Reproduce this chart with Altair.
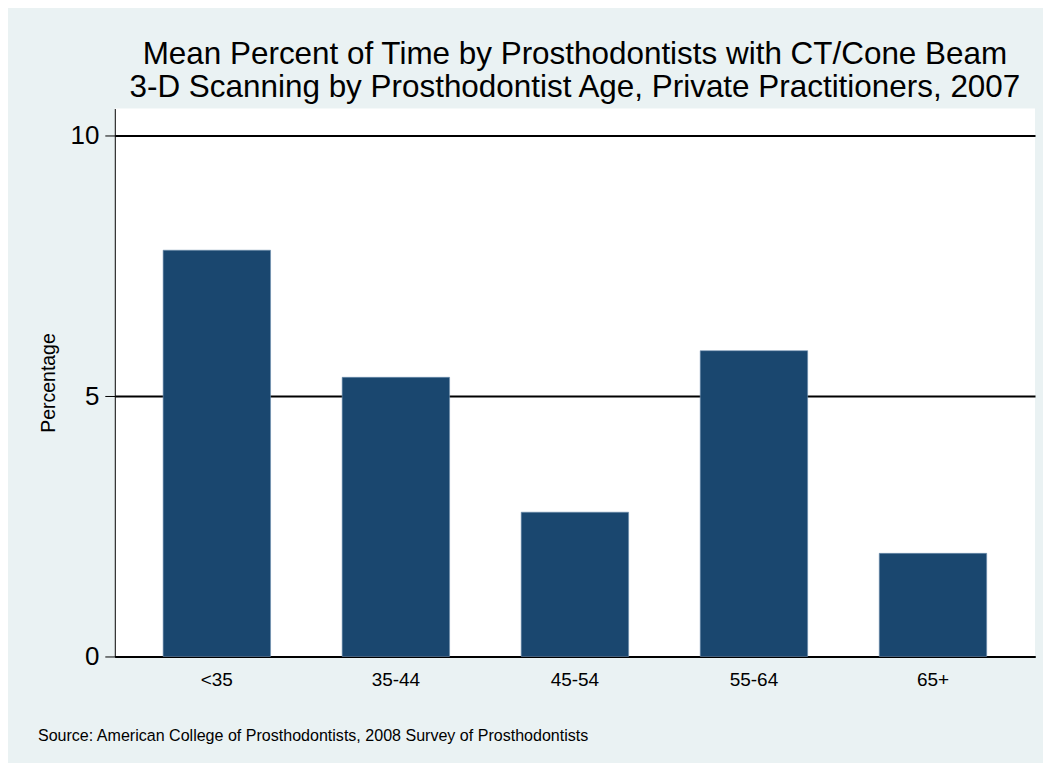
import altair as alt
import pandas as pd

categories = ["<35", "35-44", "45-54", "55-64", "65+"]
values = [7.80, 5.36, 2.77, 5.87, 1.98]
y_ticks = [0, 5, 10]
title_lines = [
    "Mean Percent of Time by Prosthodontists with CT/Cone Beam",
    "3-D Scanning by Prosthodontist Age, Private Practitioners, 2007",
]
y_title = "Percentage"
source_note = "Source: American College of Prosthodontists, 2008 Survey of Prosthodontists"

df = pd.DataFrame({"age": categories, "pct": values})

FONT = "Liberation Sans"
BAR = "#1A476F"
BG = "#EAF2F3"

bars = alt.Chart(df).mark_bar(color=BAR, stroke="#6F8FAF", strokeWidth=0.6).encode(
    x=alt.X(
        "age:N",
        sort=categories,
        scale=alt.Scale(paddingInner=0.4, paddingOuter=0.27),
        axis=alt.Axis(
            title=None,
            labelAngle=0,
            labelFontSize=19,
            labelPadding=14,
            ticks=False,
            domain=True,
            domainColor="black",
            domainWidth=2,
            grid=False,
            labelColor="black",
            labelFont=FONT,
        ),
    ),
    y=alt.Y(
        "pct:Q",
        scale=alt.Scale(domain=[0, 10.52], nice=False, zero=True),
        axis=alt.Axis(
            title=y_title,
            values=y_ticks,
            labelFontSize=26,
            labelFont=FONT,
            labelColor="black",
            labelPadding=6,
            tickSize=10,
            tickColor="black",
            tickWidth=1,
            domainColor="black",
            domainWidth=1,
            grid=True,
            gridColor="black",
            gridWidth=2,
            titleFont=FONT,
            titleFontSize=19.5,
            titleFontWeight="normal",
            titleColor="black",
            titlePadding=11,
        ),
    ),
)

source = alt.Chart(alt.Data(values=[{"t": source_note}])).mark_text(
    align="left", baseline="alphabetic", fontSize=16.1, font=FONT, color="black"
).encode(
    x=alt.value(-77),
    y=alt.value(634),
    text="t:N",
)

chart = (
    alt.layer(bars, source)
    .properties(
        width=922,
        height=549,
        background=BG,
        padding={"left": 107, "top": 100, "right": 8, "bottom": 106},
        autosize=alt.AutoSizeParams(type="none"),
        title=alt.TitleParams(
            text=title_lines,
            font=FONT,
            fontSize=31.5,
            fontWeight="normal",
            color="black",
            anchor="middle",
            frame="group",
            lineHeight=33,
            offset=5,
        ),
    )
    .configure_view(fill="white", stroke=None)
)

chart.save("out.html", embed_options={"renderer": "svg", "actions": False})
